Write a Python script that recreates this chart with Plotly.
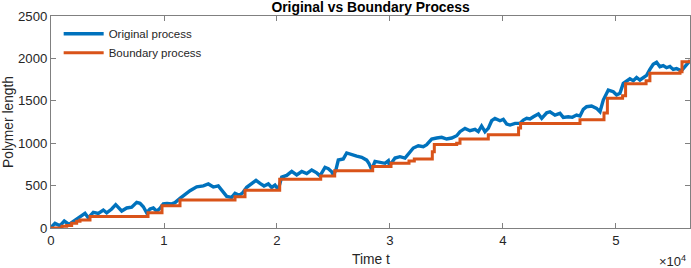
import plotly.graph_objects as go

# ---- data ----
# Original process: time t and polymer length
t_orig = [0, 354, 797, 1177, 1593, 2124, 2717, 3009, 3301, 3744, 4186, 4629, 4929, 5372,
          5726, 6257, 6700, 7142, 7584, 7877, 8169, 8469, 8762, 9054, 9354, 9647, 9939,
          10266, 10682, 10974, 11417, 11859, 12302, 12894, 13479, 13921, 14364, 14806,
          15107, 15549, 15992, 16284, 16665, 16966, 17320, 17762, 18143, 18497, 18851,
          19231, 19532, 19824, 20116, 20417, 20860, 21303, 21745, 22188, 22630, 23072,
          23515, 23807, 24249, 24541, 24843, 25000, 25222, 25426, 25868, 26169, 26611,
          27054, 27496, 27938, 28142, 28381, 28674, 29116, 29559, 29851, 29956, 30444,
          30885, 31328, 31620, 32063, 32505, 32948, 33248, 33691, 34133, 34575, 35018,
          35460, 35903, 36195, 36637, 37080, 37522, 37814, 38106, 38407, 38700, 38999,
          39292, 39735, 40027, 40327, 40628, 41070, 41513, 41805, 42097, 42389, 42690,
          43133, 43425, 43867, 44160, 44602, 45044, 45336, 45779, 46133, 46513, 46814,
          47106, 47399, 47841, 48283, 48584, 48876, 49318, 49761, 50053, 50346, 50646,
          50938, 51231, 51531, 51824, 52116, 52408, 52709, 53001, 53294, 53594, 53886,
          54179, 54471, 54771, 55064, 55356, 55798, 56550]
len_orig = [8, 55, 27, 82, 43, 94, 145, 173, 120, 185, 173, 212, 180, 224,
            275, 200, 236, 245, 303, 291, 251, 180, 224, 236, 197, 232, 285,
            290, 285, 299, 350, 401, 440, 485, 497, 519, 483, 497,
            440, 373, 362, 409, 385, 416, 480, 527, 562, 527, 495,
            520, 478, 505, 455, 600, 620, 667, 627, 666, 641, 684,
            650, 615, 716, 700, 664, 620, 690, 802, 815, 885, 862,
            847, 833, 800, 760, 690, 786, 775, 763, 794, 735, 825,
            841, 825, 872, 943, 970, 959, 982, 1049, 1061, 1069, 1049,
            1061, 1088, 1136, 1175, 1147, 1163, 1136, 1203, 1136, 1175, 1265,
            1293, 1265, 1281, 1226, 1214, 1234, 1235, 1273, 1293, 1285, 1312,
            1344, 1293, 1359, 1371, 1332, 1352, 1305, 1312, 1305, 1332, 1320,
            1399, 1430, 1438, 1411, 1370, 1509, 1627, 1607, 1568, 1588, 1705,
            1737, 1760, 1737, 1775, 1745, 1775, 1800, 1870, 1930, 1955, 1902,
            1915, 1890, 1905, 1870, 1880, 1855, 1975, 1989, 2015]

# Boundary process: step levels (value holds from each time to the next)
t_bound = [0, 973, 1387, 1829, 2272, 2567, 3452, 8585, 9824, 11417, 16284, 17169,
           20239, 23869, 25107, 28470, 30089, 31682, 32152, 33745, 33922, 35903,
           36195, 38700, 41380, 41557, 46814, 48938, 49238, 50584, 50850, 52664,
           53001, 55666, 55843, 56550]
len_bound = [0, 20, 30, 55, 80, 94, 135, 180, 262, 330, 368, 445,
             575, 612, 676, 725, 765, 790, 815, 900, 985, 998,
             1050, 1100, 1180, 1232, 1278, 1355, 1530, 1560, 1700, 1735,
             1824, 1843, 1961, 1985]

x_tickvals = [0, 10000, 20000, 30000, 40000, 50000]
x_ticktext = ["0", "1", "2", "3", "4", "5"]
y_tickvals = [0, 500, 1000, 1500, 2000, 2500]

FONT = "Liberation Sans, Arial, Helvetica, sans-serif"
TXT = "#262626"
AX = "#808080"

fig = go.Figure()
fig.add_trace(go.Scatter(x=t_orig, y=len_orig, mode="lines", name="Original process",
                         line=dict(color="#0072BD", width=3.4)))
fig.add_trace(go.Scatter(x=t_bound, y=len_bound, mode="lines", name="Boundary process",
                         line=dict(color="#D95319", width=3, shape="hv")))

fig.update_layout(
    width=691, height=268,
    margin=dict(l=51, r=1, t=16, b=40),
    paper_bgcolor="white", plot_bgcolor="white",
    font=dict(family=FONT, size=12.7, color=TXT),
    showlegend=True,
    legend=dict(x=0.012, y=0.985, xanchor="left", yanchor="top",
                bgcolor="rgba(255,255,255,0)", borderwidth=0,
                font=dict(family=FONT, size=11.5, color=TXT),
                tracegroupgap=0, itemwidth=40),
    title=dict(text="<b>Original vs Boundary Process</b>", x=0.5363, xanchor="center",
               y=1 - 7.5 / 268, yanchor="middle", yref="container",
               font=dict(family=FONT, size=13.9, color="#000000")),
)
fig.update_xaxes(range=[0, 56550], tickvals=x_tickvals, ticktext=x_ticktext,
                 ticks="inside", ticklen=5, tickcolor=AX, tickwidth=1,
                 showline=True, linecolor=AX, linewidth=1, mirror="ticks",
                 showgrid=False, zeroline=False,
                 tickfont=dict(family=FONT, size=13.2, color=TXT))
fig.update_yaxes(range=[0, 2500], tickvals=y_tickvals,
                 ticks="inside", ticklen=5, tickcolor=AX, tickwidth=1,
                 showline=True, linecolor=AX, linewidth=1, mirror="ticks",
                 showgrid=False, zeroline=False,
                 tickfont=dict(family=FONT, size=13.2, color=TXT))

fig.add_annotation(text="Time t", xref="paper", yref="paper", x=0.5, y=0,
                   xanchor="center", yanchor="middle", yshift=-31, showarrow=False,
                   font=dict(family=FONT, size=13.8, color=TXT))
fig.add_annotation(text="Polymer length", xref="paper", yref="paper", x=0, y=0.5,
                   xanchor="center", yanchor="middle", xshift=-43, textangle=-90,
                   showarrow=False, font=dict(family=FONT, size=13.8, color=TXT))
fig.add_annotation(text="×10<sup>4</sup>", xref="paper", yref="paper", x=1, y=0,
                   xanchor="right", yanchor="middle", yshift=-33, xshift=-2,
                   showarrow=False, font=dict(family=FONT, size=13, color=TXT))

fig.write_html("out.html")
